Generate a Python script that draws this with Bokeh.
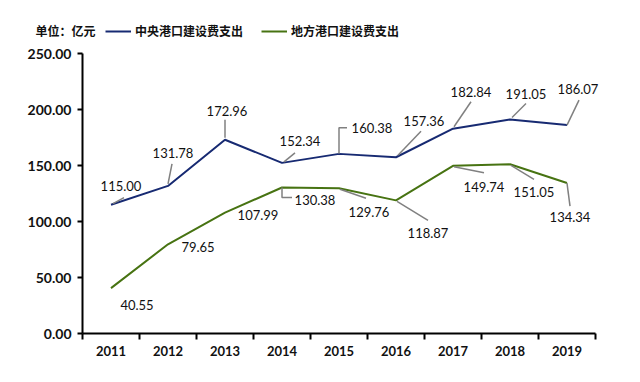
from bokeh.plotting import figure
from bokeh.models import (FixedTicker, ColumnDataSource, Legend, LegendItem, Label,
                          NumeralTickFormatter, Range1d, LinearAxis)
from bokeh.embed import file_html
from bokeh.resources import INLINE
from bokeh.core.properties import value

# ---- data ----
years = [2011, 2012, 2013, 2014, 2015, 2016, 2017, 2018, 2019]
central = [115.00, 131.78, 172.96, 152.34, 160.38, 157.36, 182.84, 191.05, 186.07]
local = [40.55, 79.65, 107.99, 130.38, 129.76, 118.87, 149.74, 151.05, 134.34]
y_ticks = [0, 50, 100, 150, 200, 250]
series_names = ["中央港口建设费支出", "地方港口建设费支出"]
unit_text = "单位：亿元"

# ---- label placement (screen px, +y is down) ----
central_lbl_off = [(10, -19), (5, -33), (2, -29), (18, -22), (33, -26),
                   (28, -36), (18, -37), (16, -26), (11, -36)]
local_lbl_off = [(26, 17), (30, 3), (33, 2), (33, 13), (30, 24),
                 (32, 33), (31, 21), (24, 28), (3, 34)]
# leader polylines (screen px, relative to point)
central_lead = [[(2, -1), (13, -7)], [(0, -2), (4, -22)], [(0, -2), (0, -20)],
                [(2, -1), (13, -10)], [(0, 0), (0, -26), (8, -26)],
                [(2, -2), (25, -26)], [(1, -2), (18, -27)], [(2, -2), (16, -16)],
                [(0, 0), (12, -25)]]
local_lead = [None, None, None,
              [(0, 0), (0, 10), (10, 10)], [(1, 1), (27, 10)],
              [(1, 1), (32, 20)], [(1, 1), (31, 7)], [(1, 1), (24, 15)],
              [(0, 0), (3, 23)]]

BLUE = "#172a72"
GREEN = "#477312"
FONT = "Lato"

W, H = 632, 374
AX_X, AX_Y = 82, 333          # page position of the axes' origin
PX_X = 57.0                   # px per year
PX_Y = 280 / 250              # px per unit
X_CAT0 = 2010.5
X0 = X_CAT0 - AX_X / PX_X
X1 = X0 + W / PX_X
Y0 = -(H - AX_Y) / PX_Y
Y1 = Y0 + H / PX_Y

p = figure(width=W, height=H, output_backend="svg", toolbar_location=None,
           x_range=Range1d(X0, X1), y_range=Range1d(Y0, Y1),
           x_axis_location=None, y_axis_location=None,
           min_border=0)
p.outline_line_color = None
p.xgrid.visible = False
p.ygrid.visible = False

# lines
r1 = p.line(years, central, line_color=BLUE, line_width=2)
r2 = p.line(years, local, line_color=GREEN, line_width=2)

# leader lines
xs, ys = [], []
for vals, leads in ((central, central_lead), (local, local_lead)):
    for yr, v, lead in zip(years, vals, leads):
        if lead is None:
            continue
        xs.append([yr + dx / PX_X for dx, dy in lead])
        ys.append([v - dy / PX_Y for dx, dy in lead])
p.multi_line(xs, ys, line_color="#808080", line_width=1.5)

# data labels
for vals, offs in ((central, central_lbl_off), (local, local_lbl_off)):
    src = ColumnDataSource(dict(x=years, y=vals, t=["%.2f" % v for v in vals],
                                xo=[o[0] for o in offs], yo=[o[1] for o in offs]))
    p.text(x="x", y="y", text="t", x_offset="xo", y_offset="yo", source=src,
           text_align="center", text_baseline="middle",
           text_font=value(FONT), text_font_size="13px", text_color="#111111")

# axes
xaxis = LinearAxis(fixed_location=0, bounds=(X_CAT0, X_CAT0 + len(years)),
                   ticker=FixedTicker(ticks=years,
                                      minor_ticks=[X_CAT0 + i for i in range(len(years) + 1)]))
xaxis.major_tick_out = 0
xaxis.major_tick_in = 0
xaxis.minor_tick_out = 6
xaxis.minor_tick_in = 0
xaxis.minor_tick_line_color = "black"
xaxis.minor_tick_line_width = 2
xaxis.major_label_standoff = 6
xaxis.major_label_text_font = FONT
xaxis.major_label_text_font_style = "bold"
xaxis.major_label_text_font_size = "13px"
xaxis.major_label_text_color = "#111111"

yaxis = LinearAxis(fixed_location=X_CAT0, bounds=(0, 250),
                   ticker=FixedTicker(ticks=y_ticks),
                   formatter=NumeralTickFormatter(format="0.00"))
yaxis.major_tick_out = 5
yaxis.major_tick_in = 0
yaxis.minor_tick_line_color = None
yaxis.major_tick_line_width = 2
yaxis.major_label_standoff = 6
yaxis.major_label_text_font = FONT
yaxis.major_label_text_font_style = "bold"
yaxis.major_label_text_font_size = "14px"
yaxis.major_label_text_color = "#111111"

for ax in (xaxis, yaxis):
    ax.axis_line_width = 2
    ax.axis_line_color = "black"
    ax.major_tick_line_color = "black"
p.add_layout(xaxis, "below")
p.add_layout(yaxis, "left")

# legend
legend = Legend(items=[LegendItem(label=series_names[0], renderers=[r1]),
                       LegendItem(label=series_names[1], renderers=[r2])],
                location=(105, H - 39), orientation="horizontal",
                glyph_width=26, glyph_height=16, label_standoff=4, spacing=18,
                padding=0, margin=0, border_line_color=None,
                background_fill_alpha=0,
                label_text_font="Noto Sans CJK SC", label_text_font_style="bold",
                label_text_font_size="12px", label_text_color="#111111")
p.add_layout(legend)

p.add_layout(Label(x=35, y=H - 30, x_units="screen", y_units="screen", text=unit_text,
                   text_font="Noto Sans CJK SC", text_font_style="bold",
                   text_font_size="12px", text_baseline="middle",
                   text_color="#111111"))

open("out.html", "w").write(file_html(p, INLINE))
